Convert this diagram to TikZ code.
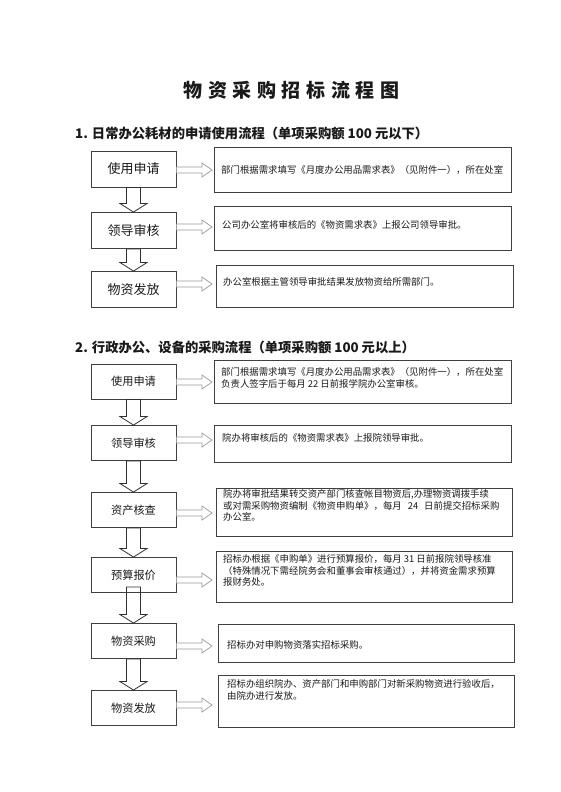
\documentclass[tikz,border=0pt]{standalone}
\usepackage{fontspec}
\setmainfont{Noto Sans CJK SC}
\usetikzlibrary{calc}
\definecolor{boxline}{HTML}{404040}
\definecolor{darrow}{HTML}{303030}
\definecolor{rarrow}{HTML}{9A9A9A}
\definecolor{txt}{HTML}{1A1A1A}
\tikzset{
  lboxa/.style={draw=boxline, line width=0.9pt, minimum width=85pt, minimum height=36pt, inner sep=0pt, text=txt, font=\fontsize{13}{13}\selectfont},
  lboxb/.style={draw=boxline, line width=0.9pt, minimum width=85pt, minimum height=35pt, inner sep=0pt, text=txt, font=\fontsize{11.2}{11.2}\selectfont},
  rbox/.style={draw=boxline, line width=0.8pt, inner sep=0pt},
  rtext/.style={anchor=north west, inner sep=0pt, align=left, text=txt, font=\fontsize{9.4}{11.5}\selectfont},
  dblock/.style={draw=darrow, line width=0.8pt, line join=miter},
  rblock/.style={draw=rarrow, line width=0.7pt, line join=miter},
  heading/.style={anchor=west, inner sep=0pt, text=txt, font=\bfseries\fontsize{13.3}{13.3}\selectfont},
}
\newcommand\dnarrow[3][0]{%
  \draw[dblock] let \p1=(#2.south), \p2=(#3.north) in
    (\x1-7pt,\y1+#1pt) -- (\x1-7pt,\y2+8.5pt) -- (\x1-13.5pt,\y2+8.5pt) -- (\x1,\y2)
    -- (\x1+13.5pt,\y2+8.5pt) -- (\x1+7pt,\y2+8.5pt) -- (\x1+7pt,\y1+#1pt) -- cycle;}
\newcommand\rtarrow[2]{%
  \draw[rblock] let \p1=(#1.east), \p2=(#2) in
    (\x1,\y2+3pt) -- (\x2-10pt,\y2+3pt) -- (\x2-10pt,\y2+7pt) -- (\x2,\y2)
    -- (\x2-10pt,\y2-7pt) -- (\x2-10pt,\y2-3pt) -- (\x1,\y2-3pt) -- cycle;}
\begin{document}
\begin{tikzpicture}[x=1pt,y=-1pt]
\useasboundingbox[fill=white] (0,0) rectangle (560,792);

% title
\node[inner sep=0pt, text=txt, font=\bfseries\fontsize{19}{19}\selectfont] (title) at (291.5,90)
  {物\hspace{5.6pt}资\hspace{5.6pt}采\hspace{5.6pt}购\hspace{5.6pt}招\hspace{5.6pt}标\hspace{5.6pt}流\hspace{5.6pt}程\hspace{5.6pt}图};

% ---------- section 1 ----------
\node[heading] (h1) at (75,133) {1.\hspace{4pt}日常办公耗材的申请使用流程（单项采购额 100 元以下）};

\node[lboxa] (a1) at (133.5,169) {使用申请};
\node[lboxa] (a2) at (133.5,230.5) {领导审核};
\node[lboxa] (a3) at (133.5,289.5) {物资发放};

\node[rbox, minimum width=297pt, minimum height=45pt] (ra1) at (362.5,169.5) {};
\node[rbox, minimum width=297pt, minimum height=44pt] (ra2) at (362.5,228) {};
\node[rbox, minimum width=297pt, minimum height=42pt] (ra3) at (364.5,286) {};

\node[rtext] (ta1) at (221,165.5) {部门根据需求填写《月度办公用品需求表》（见附件一），所在处室};
\node[rtext] (ta2) at (222,220.5) {公司办公室将审核后的《物资需求表》上报公司领导审批。};
\node[rtext] (ta3) at (223,277.5) {办公室根据主管领导审批结果发放物资给所需部门。};

\coordinate (pa1) at (212,170);
\coordinate (pa2) at (212,227);
\coordinate (pa3) at (212,284);
\rtarrow{a1}{pa1}
\rtarrow{a2}{pa2}
\rtarrow{a3}{pa3}

\dnarrow{a1}{a2}
\dnarrow{a2}{a3}

% ---------- section 2 ----------
\node[heading] (h2) at (75,347) {2.\hspace{4pt}行政办公、设备的采购流程（单项采购额 100 元以上）};

\node[lboxb] (b1) at (133.5,381.5) {使用申请};
\node[lboxb] (b2) at (133.5,443) {领导审核};
\node[lboxb] (b3) at (133.5,510) {资产核查};
\node[lboxb] (b4) at (133.5,575) {预算报价};
\node[lboxb] (b5) at (133.5,641) {物资采购};
\node[lboxb] (b6) at (133.5,708) {物资发放};

\node[rbox, minimum width=297pt, minimum height=43pt] (rb1) at (362.5,381.5) {};
\node[rbox, minimum width=297pt, minimum height=37pt] (rb2) at (362.5,443.5) {};
\node[rbox, minimum width=296pt, minimum height=48pt] (rb3) at (364,512) {};
\node[rbox, minimum width=296pt, minimum height=51pt] (rb4) at (364,576.5) {};
\node[rbox, minimum width=296pt, minimum height=38pt] (rb5) at (366,643) {};
\node[rbox, minimum width=296pt, minimum height=52pt] (rb6) at (366,701) {};

\node[rtext] (tb1) at (221,367.5) {部门根据需求填写《月度办公用品需求表》（见附件一），所在处室\\负责人签字后于每月 22 日前报学院办公室审核。};
\node[rtext] (tb2) at (222,433.5) {院办将审核后的《物资需求表》上报院领导审批。};
\node[rtext] (tb3) at (223,489.5) {院办将审批结果转交资产部门核查帐目物资后,办理物资调拨手续\\或对需采购物资编制《物资申购单》，每月\hspace{6pt}24\hspace{6pt}日前提交招标采购\\办公室。};
\node[rtext] (tb4) at (223,554.5) {招标办根据《申购单》进行预算报价，每月 31 日前报院领导核准\\（特殊情况下需经院务会和董事会审核通过），并将资金需求预算\\报财务处。};
\node[rtext] (tb5) at (227,640.5) {招标办对申购物资落实招标采购。};
\node[rtext] (tb6) at (227,679.5) {招标办组织院办、资产部门和申购部门对新采购物资进行验收后，\\由院办进行发放。};

\coordinate (pb1) at (212,382);
\coordinate (pb2) at (212,440);
\coordinate (pb3) at (212,513);
\coordinate (pb4) at (212,580);
\coordinate (pb5) at (212,646);
\coordinate (pb6) at (212,705);
\rtarrow{b1}{pb1}
\rtarrow{b2}{pb2}
\rtarrow{b3}{pb3}
\rtarrow{b4}{pb4}
\rtarrow{b5}{pb5}
\rtarrow{b6}{pb6}

\dnarrow{b1}{b2}
\dnarrow{b2}{b3}
\dnarrow{b3}{b4}
\dnarrow[6]{b4}{b5}
\dnarrow{b5}{b6}
\end{tikzpicture}
\end{document}
